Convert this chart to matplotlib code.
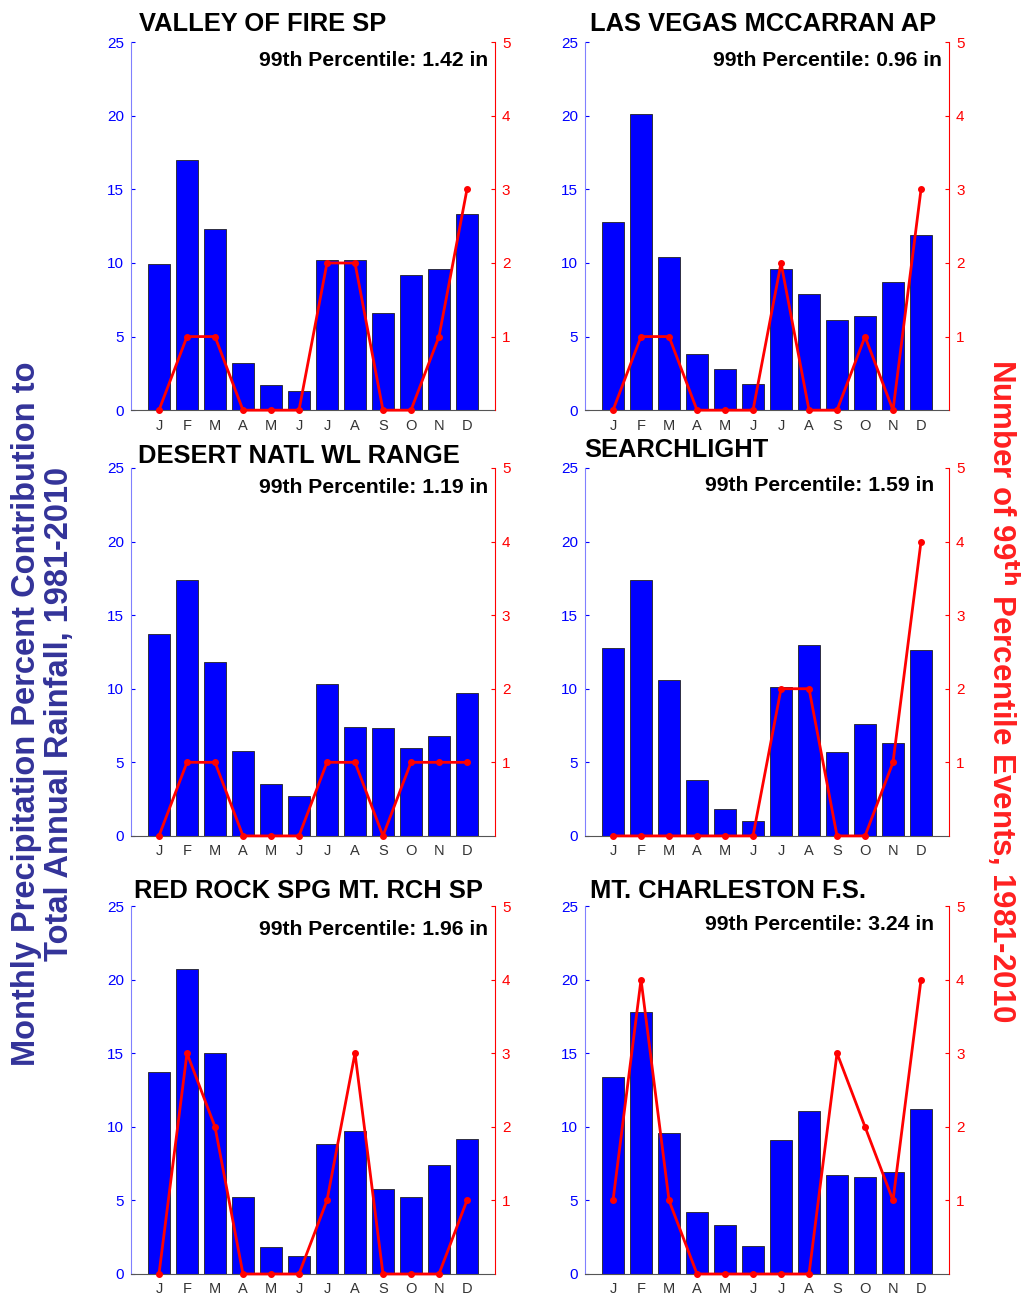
import matplotlib
matplotlib.use("Agg")
import matplotlib.pyplot as plt
import numpy as np

plt.rcParams["font.family"] = ["Liberation Sans", "DejaVu Sans"]

months = ["J", "F", "M", "A", "M", "J", "J", "A", "S", "O", "N", "D"]

stations = [
    "VALLEY OF FIRE SP",
    "LAS VEGAS MCCARRAN AP",
    "DESERT NATL WL RANGE",
    "SEARCHLIGHT",
    "RED ROCK SPG MT. RCH SP",
    "MT. CHARLESTON F.S.",
]
p99 = [1.42, 0.96, 1.19, 1.59, 1.96, 3.24]

# monthly % of annual rainfall
valley_pct = [9.9, 17.0, 12.3, 3.2, 1.7, 1.3, 10.2, 10.2, 6.6, 9.2, 9.6, 13.3]
vegas_pct = [12.8, 20.1, 10.4, 3.8, 2.8, 1.8, 9.6, 7.9, 6.1, 6.4, 8.7, 11.9]
desert_pct = [13.7, 17.4, 11.8, 5.8, 3.5, 2.7, 10.3, 7.4, 7.3, 6.0, 6.8, 9.7]
search_pct = [12.8, 17.4, 10.6, 3.8, 1.8, 1.0, 10.1, 13.0, 5.7, 7.6, 6.3, 12.6]
redrock_pct = [13.7, 20.7, 15.0, 5.2, 1.8, 1.2, 8.8, 9.7, 5.8, 5.2, 7.4, 9.2]
charles_pct = [13.4, 17.8, 9.6, 4.2, 3.3, 1.9, 9.1, 11.1, 6.7, 6.6, 6.9, 11.2]

# number of 99th percentile events
valley_ev = [0, 1, 1, 0, 0, 0, 2, 2, 0, 0, 1, 3]
vegas_ev = [0, 1, 1, 0, 0, 0, 2, 0, 0, 1, 0, 3]
desert_ev = [0, 1, 1, 0, 0, 0, 1, 1, 0, 1, 1, 1]
search_ev = [0, 0, 0, 0, 0, 0, 2, 2, 0, 0, 1, 4]
redrock_ev = [0, 3, 2, 0, 0, 0, 1, 3, 0, 0, 0, 1]
charles_ev = [1, 4, 1, 0, 0, 0, 0, 0, 3, 2, 1, 4]

pct = [valley_pct, vegas_pct, desert_pct, search_pct, redrock_pct, charles_pct]
events = [valley_ev, vegas_ev, desert_ev, search_ev, redrock_ev, charles_ev]

# layout (figure fractions / axes fractions)
lefts = [0.1283, 0.573]
bottoms = [0.684, 0.356, 0.0185]
W, H = 0.3565, 0.2835
title_x = [0.022, 0.014, 0.018, -0.003, 0.008, 0.014]
title_y = [1.031, 1.031, 1.0136, 1.03, 1.0217, 1.0217]
note_x = [0.98, 0.98, 0.98, 0.959, 0.98, 0.959]
note_y = [0.951, 0.951, 0.946, 0.951, 0.9375, 0.951]

fig = plt.figure(figsize=(10.21, 12.98), dpi=100)
x = np.arange(1, 13)

for i in range(6):
    r, c = divmod(i, 2)
    ax = fig.add_axes((lefts[c], bottoms[r], W, H))
    ax.bar(x, pct[i], width=0.8, color="#0000ff", edgecolor="#222222", linewidth=0.6)
    ax.set_xlim(0, 13)
    ax.set_ylim(0, 25)
    ax.set_yticks([0, 5, 10, 15, 20, 25])
    ax.set_xticks(x)
    ax.set_xticklabels(months)
    ax.tick_params(axis="x", length=0, pad=6, labelsize=10.5, labelcolor="#333333")
    ax.tick_params(axis="y", direction="in", length=3, pad=5, labelsize=11,
                   colors="#0000ff")
    for s in ["top", "right"]:
        ax.spines[s].set_visible(False)
    ax.spines["left"].set_color("#8080ff")
    ax.spines["bottom"].set_color("#555555")
    ax.text(title_x[i], title_y[i], stations[i], transform=ax.transAxes,
            ha="left", va="baseline", fontsize=18.4, fontweight="bold")
    ax.text(note_x[i], note_y[i], f"99th Percentile: {p99[i]:.2f} in",
            transform=ax.transAxes, ha="right", va="center",
            fontsize=15.2, fontweight="bold")

    ax2 = ax.twinx()
    ax2.plot(x, events[i], color="#ff0000", linewidth=2.0, marker="o",
             markersize=4, clip_on=False, zorder=5)
    ax2.set_ylim(0, 5)
    ax2.set_yticks([1, 2, 3, 4, 5])
    ax2.tick_params(axis="y", direction="in", length=3, pad=5, labelsize=11,
                    colors="#ff0000")
    for s in ["top", "left", "bottom"]:
        ax2.spines[s].set_visible(False)
    ax2.spines["right"].set_color("#ff0000")

fig.text(0.042, 0.45,
         "Monthly Precipitation Percent Contribution to\nTotal Annual Rainfall, 1981-2010",
         rotation=90, ha="center", va="center", fontsize=23.5, fontweight="bold",
         color="#333399", linespacing=1.1)
fig.text(0.983, 0.468, "Number of 99$^{\\mathbf{th}}$ Percentile Events, 1981-2010",
         rotation=-90, ha="center", va="center", fontsize=22.5, fontweight="bold",
         color="#ff2020")

fig.savefig("out.png", dpi=100)
